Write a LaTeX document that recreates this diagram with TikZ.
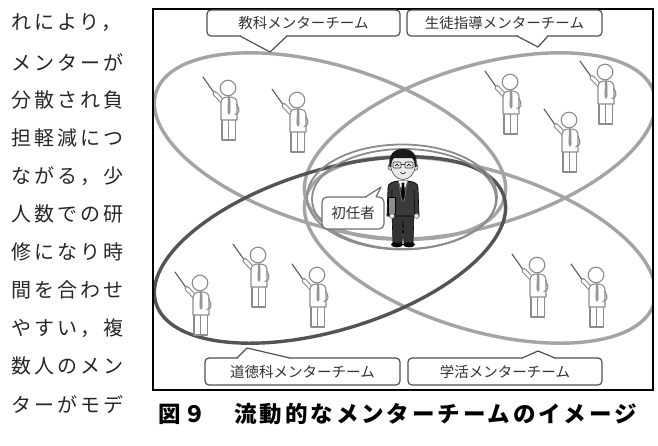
\documentclass[tikz,border=0pt]{standalone}
\usepackage{fontspec}
\newfontfamily\jp{Noto Sans CJK JP}
\newfontfamily\jpbody[LetterSpace=15]{Noto Sans CJK JP}
\newfontfamily\jpcap[LetterSpace=12.9]{Noto Sans CJK JP}
\usetikzlibrary{calc}

\definecolor{lightring}{HTML}{A4A4A4}
\definecolor{darkring}{HTML}{545454}
\definecolor{midring}{HTML}{8C8C8C}
\definecolor{figline}{HTML}{8C8C8C}
\definecolor{stickgray}{HTML}{5A5A5A}
\definecolor{tiegray}{HTML}{9A9A9A}
\definecolor{boxline}{HTML}{505050}
\definecolor{inktext}{HTML}{333333}
\definecolor{skin}{HTML}{EAEAEA}
\definecolor{suit}{HTML}{3A3A3A}

\tikzset{
  ring/.style={line width=3.4pt, draw=lightring},
  darkringline/.style={line width=3.4pt, draw=darkring},
  centerring/.style={line width=1.8pt, draw=midring},
  teambox/.style={draw=boxline, line width=1.2pt, fill=white, rounded corners=4pt,
    inner sep=0pt, text=inktext, font=\jp\fontsize{14.5}{16}\selectfont},
  pointerside/.style={draw=boxline, line width=1.2pt, line join=round},
  bubblebox/.style={draw=figline!80!black, line width=1.2pt, fill=white, rounded corners=5pt,
    inner sep=0pt, minimum width=62pt, minimum height=32pt, text=inktext,
    font=\jp\fontsize{14.5}{16}\selectfont},
  bodyline/.style={anchor=west, inner sep=0pt, text=black!85, font=\jpbody\fontsize{20}{22}\selectfont},
  figstroke/.style={draw=figline, fill=white, line width=1.1pt, line join=round},
  teacher/.pic={
    % pointer stick
    \draw[line width=1.1pt, draw=stickgray, line cap=round] (-25,-11) -- (-13,6);
    % raised arm, outlined
    \draw[line width=5pt, draw=figline, line cap=round] (-5,14) -- (-13,5.5);
    \draw[line width=2.8pt, draw=white, line cap=round] (-5,14) -- (-13,5.5);
    % legs
    \draw[figstroke] (-6,30) rectangle (0.4,52);
    \draw[figstroke] (0.9,30) rectangle (7.5,52);
    % torso
    \draw[figstroke] (-7,32) -- (-7,15) .. controls (-7,10.5) and (-4,9) .. (0,9)
      -- (2,9) .. controls (6,9) and (9,11) .. (9,15) -- (9,32) -- cycle;
    % hand resting on the hip
    \draw[draw=figline, line width=1.1pt] (8.6,16) .. controls (12.5,21) and (11.5,26.5) .. (6.5,26.5);
    % tie
    \filldraw[draw=figline, fill=tiegray, line width=0.6pt]
      (0.2,9.5) -- (1.9,9.5) -- (2.2,24) -- (1.05,26.2) -- (-0.1,24) -- cycle;
    % head
    \draw[figstroke] (0,0) circle[radius=7.8pt];
  }
}

\begin{document}
\begin{tikzpicture}[x=1pt,y=-1pt]
\useasboundingbox (0,0) rectangle (658,445);

% running text column
\node[bodyline] (t1)  at (11,23)  {れにより，};
\node[bodyline] (t2)  at (11,62)  {メンターが};
\node[bodyline] (t3)  at (11,100) {分散され負};
\node[bodyline] (t4)  at (11,138) {担軽減につ};
\node[bodyline] (t5)  at (11,176) {ながる，少};
\node[bodyline] (t6)  at (11,214) {人数での研};
\node[bodyline] (t7)  at (11,252) {修になり時};
\node[bodyline] (t8)  at (11,290) {間を合わせ};
\node[bodyline] (t9)  at (11,328) {やすい，複};
\node[bodyline] (t10) at (11,366) {数人のメン};
\node[bodyline] (t11) at (11,405) {ターがモデ};

% figure frame
\fill[white] (153,9) rectangle (653,390);

% team rings
\begin{scope}
\clip (154,10) rectangle (652,389);
\draw[ring, rotate around={-17:(330,146)}] (330,146) ellipse [x radius=182pt, y radius=80pt];
\draw[ring, rotate around={17:(480,146)}] (480,146) ellipse [x radius=182pt, y radius=80pt];
\draw[ring, rotate around={-17:(480,250)}] (480,250) ellipse [x radius=182pt, y radius=80pt];
\draw[darkringline, rotate around={17:(330,250)}] (330,250) ellipse [x radius=182pt, y radius=80pt];
% ring around the newcomer, doubled
\draw[centerring] (402,197) ellipse [x radius=95pt, y radius=52.5pt];
\draw[centerring] (404,199) ellipse [x radius=92pt, y radius=50pt];
\end{scope}

\draw[line width=1.8pt] (153,9) rectangle (653,390);

% mentors
\pic at (228,88)  {teacher};
\pic at (297,100) {teacher};
\pic at (510,82)  {teacher};
\pic at (605,72)  {teacher};
\pic at (569,120) {teacher};
\pic at (200,283) {teacher};
\pic at (258,255) {teacher};
\pic at (317,275) {teacher};
\pic at (537,265) {teacher};
\pic at (596,275) {teacher};

% newcomer in a suit
\begin{scope}[shift={(403,163)}]
  % shoes
  \fill[black] (-6,81.5) ellipse [x radius=6pt, y radius=2.8pt];
  \fill[black] (6,81.5) ellipse [x radius=6pt, y radius=2.8pt];
  % trousers
  \filldraw[fill=black!80, draw=black, line width=0.6pt]
    (-11,50) -- (11,50) -- (10,80) -- (1,80) -- (0,58) -- (-1,80) -- (-10,80) -- cycle;
  % neck
  \fill[skin] (-3.5,13) rectangle (3.5,20);
  % jacket
  \filldraw[fill=suit, draw=black, line width=0.7pt]
    (-15,25) .. controls (-15,20.5) and (-12,19) .. (-5,18) -- (5,18)
    .. controls (12,19) and (15,20.5) .. (15,25) -- (16,53) -- (-16,53) -- cycle;
  % shirt and tie
  \fill[white] (-4.5,18) -- (4.5,18) -- (0,31) -- cycle;
  \fill[black] (-1.4,19.5) -- (1.4,19.5) -- (1.7,34) -- (0,36.5) -- (-1.7,34) -- cycle;
  \draw[black!55, line width=0.7pt] (-4.5,18) -- (-1,39);
  \draw[black!55, line width=0.7pt] (4.5,18) -- (1,39);
  % sleeves
  \draw[black, line width=0.6pt] (-11,27) -- (-11.5,51);
  \draw[black, line width=0.6pt] (11,27) -- (11.5,51);
  % book held at the side
  \filldraw[fill=black!45, draw=black, line width=0.6pt] (-15,34) rectangle (-8,51);
  % hands
  \filldraw[fill=skin, draw=black!70, line width=0.5pt] (-11,53) ellipse [x radius=2.6pt, y radius=2.4pt];
  \filldraw[fill=skin, draw=black!70, line width=0.5pt] (13.5,53) ellipse [x radius=2.6pt, y radius=2.4pt];
  % ears and face
  \filldraw[fill=skin, draw=black!70, line width=0.6pt] (-12.5,4) ellipse [x radius=2.5pt, y radius=3.2pt];
  \filldraw[fill=skin, draw=black!70, line width=0.6pt] (12.5,4) ellipse [x radius=2.5pt, y radius=3.2pt];
  \filldraw[fill=skin, draw=black!70, line width=0.6pt] (0,3) ellipse [x radius=12pt, y radius=13.5pt];
  % hair
  \fill[black!90] (-13.5,4) .. controls (-15,-9) and (-9,-14) .. (0,-14)
    .. controls (9,-14) and (15,-9) .. (13.5,4) -- (12,4)
    .. controls (12,-1) and (11,-4) .. (9,-5) -- (-9,-5)
    .. controls (-11,-4) and (-12,-1) .. (-12,4) -- cycle;
  % glasses and smiling eyes
  \draw[black!80, line width=0.7pt, rounded corners=1pt] (-10,-1) rectangle (-2,5);
  \draw[black!80, line width=0.7pt, rounded corners=1pt] (2,-1) rectangle (10,5);
  \draw[black!80, line width=0.6pt] (-2,1.5) -- (2,1.5);
  \draw[black, line width=0.7pt] (-8,3) -- (-6,1) -- (-4,3);
  \draw[black, line width=0.7pt] (4,3) -- (6,1) -- (8,3);
  % mouth
  \draw[black!80, line width=0.7pt] (-2.5,9) .. controls (-1,11.5) and (1,11.5) .. (2.5,9);
\end{scope}

% speech bubble of the newcomer
\node[bubblebox] (nov) at (353,213) {初任者};
\coordinate (novtip) at (381,187);
\fill[white] (366,198.5) -- (novtip) -- (376,198.5) -- cycle;
\fill[white] (366.5,196) rectangle (375.5,199);
\draw[draw=figline!80!black, line width=1.2pt, line join=round] (365.5,197) -- (novtip) -- (376,197);

% team labels
\node[teambox, minimum width=193pt, minimum height=26pt] (kyoka) at (303.5,23) {教科メンターチーム};
\node[teambox, minimum width=195pt, minimum height=26pt] (seito) at (504.5,23) {生徒指導メンターチーム};
\node[teambox, minimum width=195pt, minimum height=27pt] (dotoku) at (302.5,371.5) {道徳科メンターチーム};
\node[teambox, minimum width=194pt, minimum height=27pt] (gakkatsu) at (505,371.5) {学活メンターチーム};

% label pointers
\coordinate (kyokatip) at (270,52);
\fill[white] (241,34.5) rectangle (286,37.5);
\fill[white] (240,36) -- (kyokatip) -- (287,36) -- cycle;
\draw[pointerside] (240,36) -- (kyokatip) -- (287,36);

\coordinate (seitotip) at (538,47);
\fill[white] (518,34.5) rectangle (547,37.5);
\fill[white] (517,36) -- (seitotip) -- (548,36) -- cycle;
\draw[pointerside] (517,36) -- (seitotip) -- (548,36);

\coordinate (dotokutip) at (247,348);
\fill[white] (238,356.5) rectangle (289,359.5);
\fill[white] (237,358) -- (dotokutip) -- (290,358) -- cycle;
\draw[pointerside] (237,358) -- (dotokutip) -- (290,358);

\coordinate (gakkatsutip) at (538,351);
\fill[white] (523,356.5) rectangle (554,359.5);
\fill[white] (522,358) -- (gakkatsutip) -- (555,358) -- cycle;
\draw[pointerside] (522,358) -- (gakkatsutip) -- (555,358);

% caption
\node[anchor=west, inner sep=0pt, text=black, font=\jpcap\bfseries\fontsize{22.5}{24}\selectfont] (cap) at (158,414) {図９　流動的なメンターチームのイメージ};
\end{tikzpicture}
\end{document}
